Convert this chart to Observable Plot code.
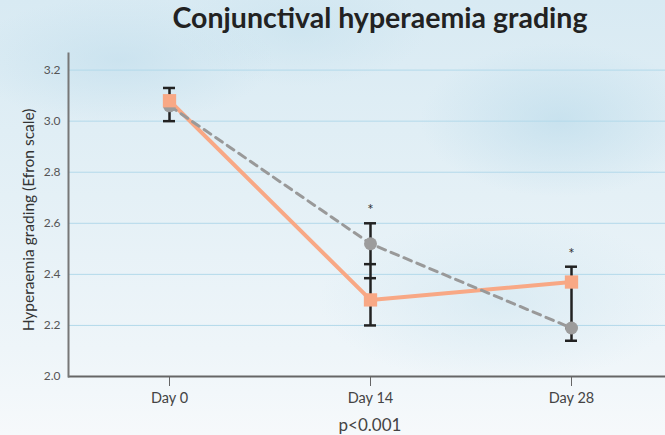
<!DOCTYPE html>
<html>
<head>
<meta charset="utf-8">
<script src="https://cdn.jsdelivr.net/npm/d3@7"></script>
<script src="https://cdn.jsdelivr.net/npm/@observablehq/plot@0.6"></script>
<style>
  html, body { margin: 0; padding: 0; }
  body {
    width: 665px; height: 435px; position: relative; overflow: hidden;
    font-family: Lato, "Open Sans", sans-serif;
    background:
      radial-gradient(ellipse 220px 90px at 120px 60px, rgba(190,220,235,0.55), rgba(190,220,235,0) 70%),
      radial-gradient(ellipse 200px 110px at 560px 120px, rgba(185,218,234,0.6), rgba(185,218,234,0) 70%),
      radial-gradient(ellipse 180px 80px at 300px 30px, rgba(200,226,238,0.6), rgba(200,226,238,0) 70%),
      radial-gradient(ellipse 260px 120px at 500px 300px, rgba(200,226,238,0.45), rgba(200,226,238,0) 70%),
      linear-gradient(180deg, #d8eaf3 0%, #e4f0f6 45%, #eef5f9 80%, #f6f9fb 100%);
  }
  #title {
    position: absolute; left: 0; top: 0px; width: 665px; text-align: center;
    padding-left: 95px; box-sizing: border-box;
    font-family: Lato, sans-serif; font-weight: 700; font-size: 28.5px; color: #222;
  }
  #chart { position: absolute; left: 0; top: 40px; }
  #caption {
    position: absolute; left: 0; width: 740px; top: 414px; text-align: center;
    font-family: Lato, sans-serif; font-size: 17px; color: #444;
  }
</style>
</head>
<body>
<div id="title">Conjunctival hyperaemia grading</div>
<div id="chart"></div>
<div id="caption">p&lt;0.001</div>
<script>
const days = ["Day 0", "Day 14", "Day 28"];
const orangeValues = [3.08, 2.30, 2.37];
const orangeLow    = [3.08, 2.20, 2.37];
const orangeHigh   = [3.13, 2.385, 2.43];
const grayValues   = [3.06, 2.52, 2.19];
const grayLow      = [3.00, 2.44, 2.14];
const grayHigh     = [3.06, 2.60, 2.19];
const significant  = [false, true, true];
const yTicks = [2.0, 2.2, 2.4, 2.6, 2.8, 3.0, 3.2];
const yLabel = "Hyperaemia grading (Efron scale)";

const orange = days.map((d, i) => ({day: d, v: orangeValues[i], lo: orangeLow[i], hi: orangeHigh[i]}));
const gray = days.map((d, i) => ({day: d, v: grayValues[i], lo: grayLow[i], hi: grayHigh[i]}));
const bars = days.map((d, i) => ({
  day: d,
  lo: Math.min(orangeLow[i], grayLow[i]),
  hi: Math.max(orangeHigh[i], grayHigh[i]),
  sig: significant[i]
}));
const caps = [...orange, ...gray].flatMap(r => [{day: r.day, y: r.lo}, {day: r.day, y: r.hi}]);

const plot = Plot.plot({
  width: 665,
  height: 395,
  marginLeft: 68,
  marginRight: 0,
  marginTop: 13,
  marginBottom: 59,
  style: {background: "transparent", fontFamily: "Lato, sans-serif"},
  x: {type: "point", domain: days, range: [168, 571], padding: 0, label: null},
  y: {domain: [2.0, 3.265], label: null},
  marks: [
    Plot.ruleY(yTicks.filter(t => t > 2.0), {stroke: "#b3d9ea", strokeWidth: 1}),
    Plot.axisY(yTicks, {tickSize: 0, tickPadding: 8, fontSize: 12, fill: "#555", tickFormat: d3.format(".1f")}),
    Plot.axisX(days, {tickSize: 10, stroke: "#666", fontSize: 14.5, fill: "#444", tickPadding: 6}),
    Plot.text([yLabel], {frameAnchor: "left", y: [2.613], text: d => d, rotate: -90, textAnchor: "middle", dx: -39, fontSize: 15.5, fill: "#333"}),
    Plot.ruleX(bars, {x: "day", y1: "lo", y2: "hi", stroke: "#222", strokeWidth: 2.5}),
    Plot.ruleY(caps, {x1: "day", x2: "day", y: "y", stroke: "#222", strokeWidth: 2.5, insetLeft: -6, insetRight: -6}),
    Plot.line(orange, {x: "day", y: "v", stroke: "#f8a885", strokeWidth: 4}),
    Plot.line(gray, {x: "day", y: "v", stroke: "#999", strokeWidth: 3, strokeDasharray: "8,6"}),
    Plot.dot(gray, {x: "day", y: "v", r: 6.5, fill: "#9c9c9c", stroke: "none"}),
    Plot.dot(orange, {x: "day", y: "v", symbol: "square", r: 7.5, fill: "#f8a885", stroke: "none"}),
    Plot.text(bars.filter(b => b.sig), {x: "day", y: "hi", text: () => "*", dy: -13, fontSize: 15, fill: "#333"}),
    Plot.ruleY([2.0], {stroke: "#666", strokeWidth: 2}),
    Plot.frame({anchor: "left", stroke: "#777", strokeWidth: 2})
  ]
});
document.getElementById("chart").appendChild(plot);
</script>
</body>
</html>
